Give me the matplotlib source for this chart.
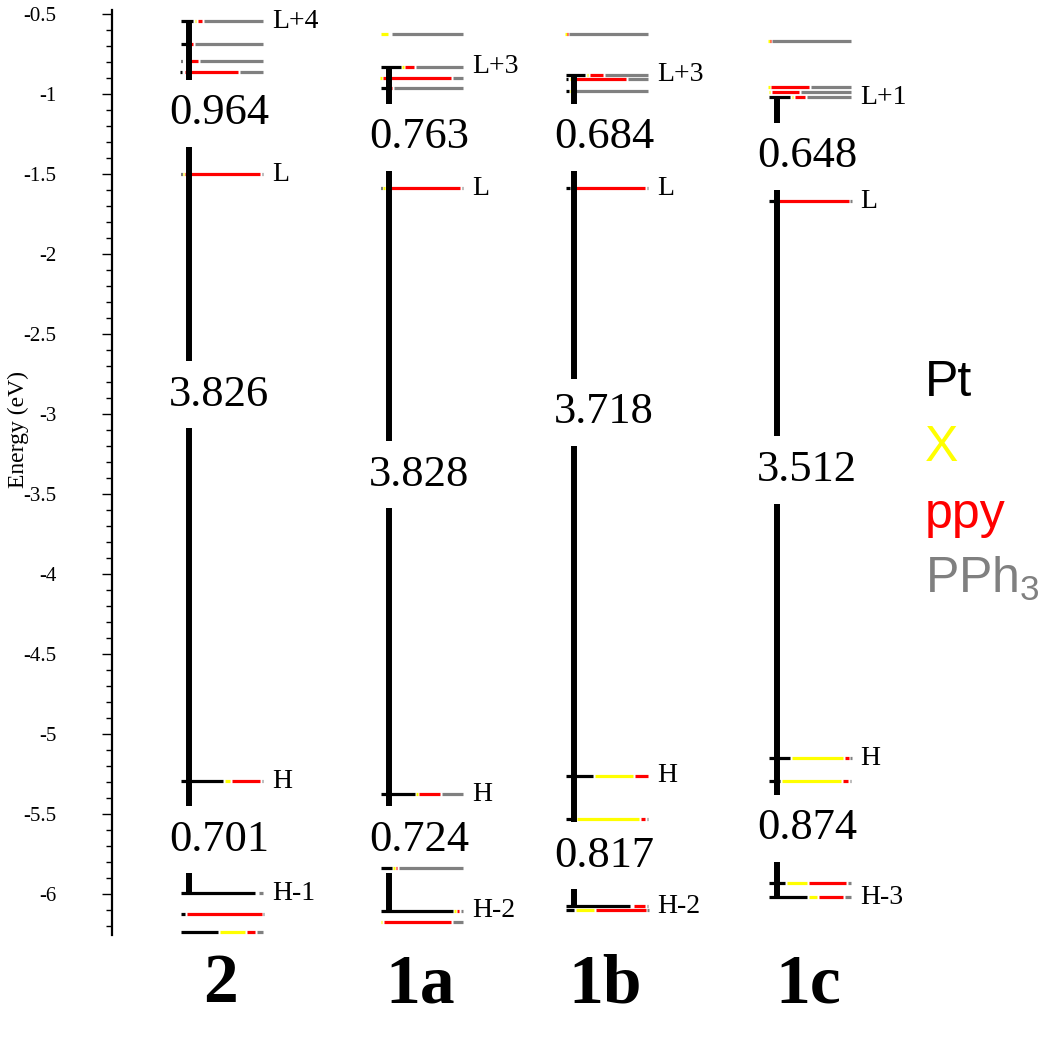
import numpy as np
import matplotlib
matplotlib.use("Agg")
import matplotlib.pyplot as plt
from matplotlib.ticker import MultipleLocator, FuncFormatter

# orbital energies (eV) and fragment contributions (%) : Pt, X, ppy, PPh3
e_2 = [-0.544, -0.69, -0.794, -0.862, -1.5, -5.294, -5.994, -6.125, -6.238]
pt_2 = [17, 12, 3, 2, 3, 52, 90, 7, 45]
x_2 = [3, 0, 3, 3, 2, 9, 3, 0, 30]
ppy_2 = [7, 5, 17, 65, 91, 36, 0, 92, 12]
pph_2 = [73, 83, 77, 30, 4, 3, 7, 1, 9]

e_1a = [-0.625, -0.831, -0.90, -0.962, -1.588, -5.375, -5.838, -6.106, -6.175]
pt_1a = [0, 26, 0, 10, 4, 42, 15, 88, 0]
x_1a = [10, 2, 2, 2, 2, 2, 2, 2, 4]
ppy_1a = [3, 14, 80, 3, 90, 27, 4, 5, 80]
pph_1a = [82, 58, 14, 82, 4, 27, 76, 5, 14]

e_1b = [-0.625, -0.881, -0.906, -0.981, -1.588, -5.262, -5.531, -6.075, -6.1]
pt_1b = [0, 24, 5, 6, 7, 33, 12, 78, 12]
x_1b = [2, 3, 3, 2, 2, 45, 74, 3, 24]
ppy_1b = [2, 17, 64, 3, 88, 17, 6, 15, 62]
pph_1b = [95, 50, 25, 88, 3, 0, 4, 4, 2]

e_1c = [-0.669, -0.956, -0.99, -1.019, -1.669, -5.15, -5.294, -5.931, -6.019]
pt_1c = [0, 0, 0, 27, 8, 27, 15, 22, 48]
x_1c = [2, 2, 3, 4, 2, 63, 73, 26, 12]
ppy_1c = [1, 48, 35, 14, 88, 8, 8, 46, 30]
pph_1c = [97, 50, 62, 55, 2, 2, 4, 6, 10]

names = ['2', '1a', '1b', '1c']
# labelled orbitals: (index of level, text)
labels_2 = [(0, 'L+4'), (4, 'L'), (5, 'H'), (6, 'H-1')]
labels_1a = [(1, 'L+3'), (4, 'L'), (5, 'H'), (7, 'H-2')]
labels_1b = [(1, 'L+3'), (4, 'L'), (5, 'H'), (7, 'H-2')]
labels_1c = [(3, 'L+1'), (4, 'L'), (5, 'H'), (8, 'H-3')]
# gaps: upper, H-L, lower
gaps_2 = ['0.964', '3.826', '0.701']
gaps_1a = ['0.763', '3.828', '0.724']
gaps_1b = ['0.684', '3.718', '0.817']
gaps_1c = ['0.648', '3.512', '0.874']
# where the gap numbers sit (eV)
gap_pos_2 = [-1.12, -2.88, -5.66]
gap_pos_1a = [-1.27, -3.38, -5.66]
gap_pos_1b = [-1.27, -2.99, -5.76]
gap_pos_1c = [-1.39, -3.35, -5.59]

frag_names = ['Pt', 'X', 'ppy', 'PPh$_\\mathregular{3}$']
frag_colors = ['black', '#ffff00', '#ff0000', '#808080']

cols = [
    (e_2, [pt_2, x_2, ppy_2, pph_2], labels_2, gaps_2, gap_pos_2, 180),
    (e_1a, [pt_1a, x_1a, ppy_1a, pph_1a], labels_1a, gaps_1a, gap_pos_1a, 380),
    (e_1b, [pt_1b, x_1b, ppy_1b, pph_1b], labels_1b, gaps_1b, gap_pos_1b, 565),
    (e_1c, [pt_1c, x_1c, ppy_1c, pph_1c], labels_1c, gaps_1c, gap_pos_1c, 768),
]

W = 84
serif = 'Liberation Serif'

fig = plt.figure(figsize=(10.5, 10.41), dpi=100)
ax = fig.add_axes([112/1050, 1-935/1041, 938/1050, 925/1041])
ax.set_xlim(112, 1050)
ax.set_ylim(-6.256, -0.475)

for name, (en, fr, labs, gaps, gpos, x0) in zip(names, cols):
    # levels split into fragment segments
    for i, e in enumerate(en):
        parts = [f[i] for f in fr]
        tot = float(sum(parts))
        c = 0
        for p, col in zip(parts, frag_colors):
            if p > 0:
                a = x0 + W*c/tot
                b = x0 + W*(c+p)/tot
                if b - a > 2.5:
                    a, b = a + 1, b - 1
                ax.plot([a, b], [e, e], color=col, lw=2.3, solid_capstyle='butt', zorder=2)
            c += p
    # vertical connectors with breaks for the gap numbers
    xv = x0 + 9
    i_top, i_l, i_h, i_bot = [k for k, _ in labs]
    spans = [(en[i_top], en[i_l]), (en[i_l], en[i_h]), (en[i_h], en[i_bot])]
    for (top, bot), g, gy in zip(spans, gaps, gpos):
        hg = 0.21
        ax.plot([xv, xv], [top, gy + hg], color='black', lw=4.3, solid_capstyle='butt', zorder=3)
        ax.plot([xv, xv], [gy - hg, bot], color='black', lw=4.3, solid_capstyle='butt', zorder=3)
        ax.text(xv + 30, gy, g, ha='center', va='center', fontsize=32, family=serif)
    for k, t in labs:
        ax.text(x0 + W + 8, en[k], t, ha='left', va='center', fontsize=20, family=serif)
    ax.text(x0 + 40, -6.57, name, ha='center', va='center', fontsize=50,
            family=serif, fontweight='bold', clip_on=False)

# fragment colour key
key_y = [-2.89, -3.295, -3.71, -4.12]
for nm, col, ky in zip(frag_names, frag_colors, key_y):
    ax.text(925, ky, nm, color=col, fontsize=36, family='Liberation Sans', ha='left', va='baseline')

for s in ['top', 'right', 'bottom']:
    ax.spines[s].set_visible(False)
ax.spines['left'].set_linewidth(1.6)
ax.set_xticks([])
ax.yaxis.set_major_locator(MultipleLocator(0.5))
ax.yaxis.set_minor_locator(MultipleLocator(0.1))
ax.yaxis.set_major_formatter(FuncFormatter(lambda v, p: ('%g' % v).replace('\u2212', '-')))
ax.tick_params(axis='y', which='major', length=7, width=1, labelsize=15, pad=33)
ax.tick_params(axis='y', which='minor', length=4, width=1)
for lb in ax.get_yticklabels():
    lb.set_family(serif)
ax.set_ylabel('Energy (eV)', fontsize=17, family=serif)
ax.yaxis.set_label_coords(-0.089, 0.546)

fig.savefig('out.png', dpi=100)
